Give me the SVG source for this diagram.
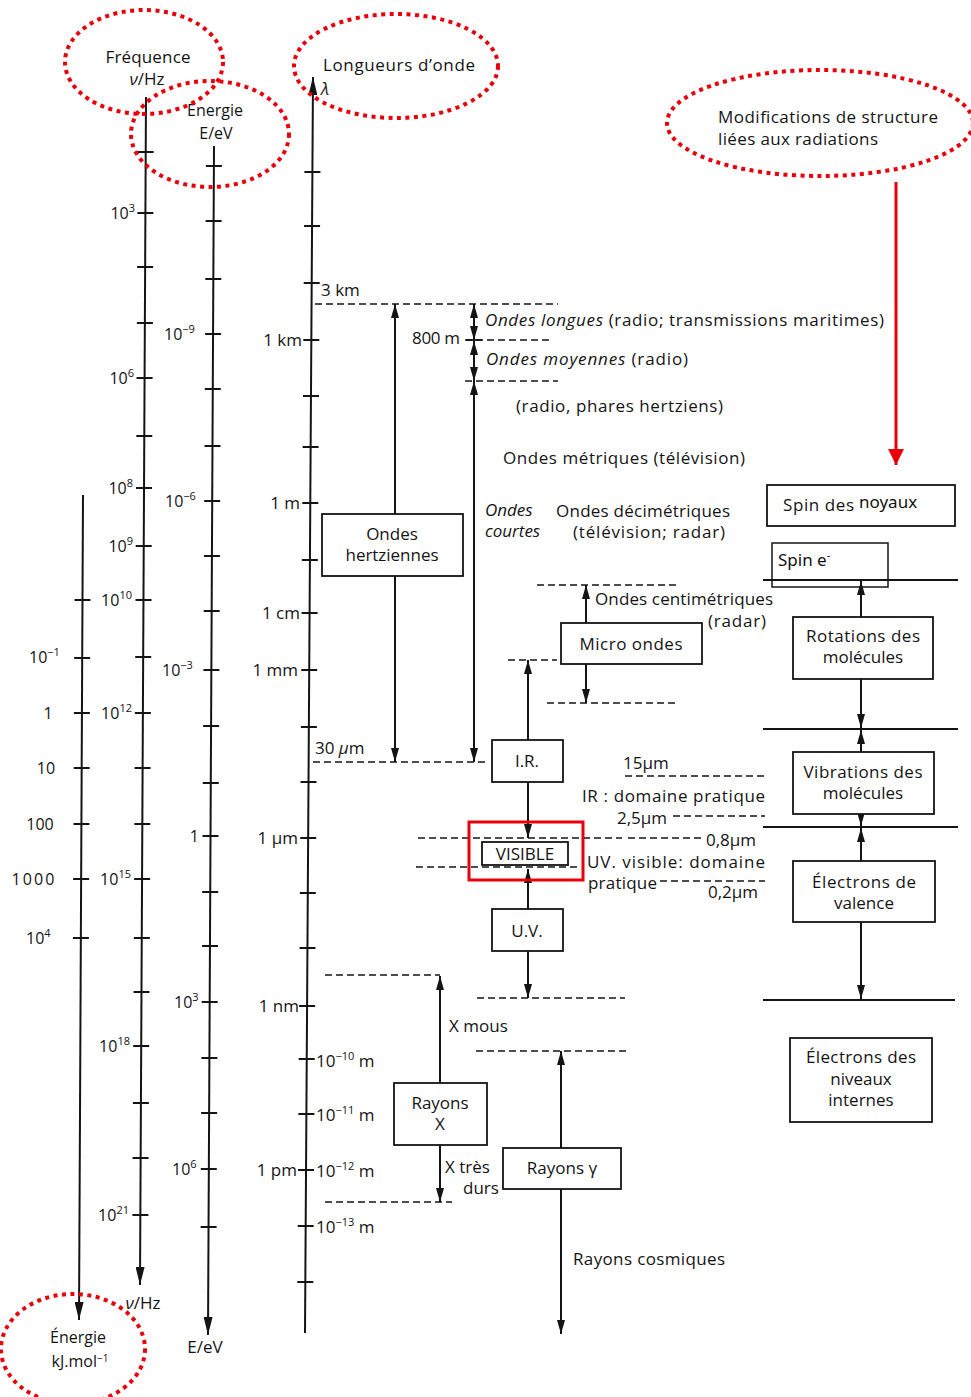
<svg xmlns="http://www.w3.org/2000/svg" width="971" height="1397" viewBox="0 0 971 1397">
<style>
.t{font-family:"Open Sans",Lato,"Liberation Sans",sans-serif;font-size:17px;fill:#141414}
.s{font-size:16px}
.i{font-style:italic}
.m{text-anchor:middle}
.e{text-anchor:end}
.c{font-family:"Noto Sans","DejaVu Sans",sans-serif;font-size:17px;fill:#111}
.ax{stroke:#141414;stroke-width:2;fill:none}
.tk{stroke:#141414;stroke-width:1.8;fill:none}
.box{fill:#fff;stroke:#141414;stroke-width:1.8}
.dash{stroke:#141414;stroke-width:1.5;stroke-dasharray:7 4;fill:none}
.ln{stroke:#141414;stroke-width:1.8;fill:none}
.arr{stroke:#141414;stroke-width:2;fill:none;marker-end:url(#ah)}
.arr2{stroke:#141414;stroke-width:2;fill:none;marker-end:url(#ah);marker-start:url(#ah)}
.red{fill:none;stroke:#e8000b;stroke-width:4;stroke-dasharray:4 4.5}
</style>
<defs>
<marker id="ah" viewBox="0 0 14 8" refX="14" refY="4" markerWidth="14" markerHeight="8" markerUnits="userSpaceOnUse" orient="auto-start-reverse"><path d="M0,0 L14,4 L0,8 z" fill="#141414"/></marker>
<marker id="axh" viewBox="0 0 18 9" refX="18" refY="4.5" markerWidth="18" markerHeight="9" markerUnits="userSpaceOnUse" orient="auto"><path d="M0,0 L18,4.5 L0,9 z" fill="#141414"/></marker>
<marker id="rh" viewBox="0 0 16 16" refX="16" refY="8" markerWidth="16" markerHeight="16" markerUnits="userSpaceOnUse" orient="auto"><path d="M0,0 L16,8 L0,16 z" fill="#e8000b"/></marker>
</defs>
<rect width="971" height="1397" fill="#fff"/>

<!-- Axes -->
<g id="axis-energie-kj">
<path class="ax" d="M83 495 L79 1320" marker-end="url(#axh)"/>
<path class="tk" d="M74.5 600h16M74.2 658h16M73.9 713h16M73.7 768h16M73.4 824h16M73.1 879h16M72.9 938h16"/>
<text class="t s" x="29" y="663">10<tspan dy="-7" font-size="11">−1</tspan></text>
<text class="t s m" x="48" y="719">1</text>
<text class="t s m" x="46" y="774">10</text>
<text class="t s m" x="40" y="830">100</text>
<text class="t s m" x="33" y="885" textLength="43">1000</text>
<text class="t s" x="26" y="944">10<tspan dy="-7" font-size="11">4</tspan></text>
<text class="t s m" x="78" y="1343">Énergie</text>
<text class="t s m" x="80" y="1367">kJ.mol<tspan dy="-5" font-size="10">−1</tspan></text>
</g>

<g id="axis-frequence">
<path class="ax" d="M146 97 L140 1285" marker-end="url(#axh)"/>
<path class="tk" d="M137.7 152h16M137.4 213h16M137.1 267h16M136.9 323h16M136.6 378h16M136.3 436h16M136 488h16M135.7 546h16M135.5 600h16M135.2 657h16M134.9 713h16M134.6 768h16M134.3 824h16M134.1 879h16M133.8 938h16M133.5 992h16M133.2 1046h16M132.9 1103h16M132.6 1158h16M132.4 1215h16"/>
<text class="t s e" x="135" y="219">10<tspan dy="-7" font-size="11">3</tspan></text>
<text class="t s e" x="134" y="384">10<tspan dy="-7" font-size="11">6</tspan></text>
<text class="t s e" x="133" y="494">10<tspan dy="-7" font-size="11">8</tspan></text>
<text class="t s e" x="133" y="552">10<tspan dy="-7" font-size="11">9</tspan></text>
<text class="t s e" x="132" y="606">10<tspan dy="-7" font-size="11">10</tspan></text>
<text class="t s e" x="132" y="719">10<tspan dy="-7" font-size="11">12</tspan></text>
<text class="t s e" x="131" y="885">10<tspan dy="-7" font-size="11">15</tspan></text>
<text class="t s e" x="130" y="1052">10<tspan dy="-7" font-size="11">18</tspan></text>
<text class="t s e" x="129" y="1221">10<tspan dy="-7" font-size="11">21</tspan></text>
<text class="t m" x="148" y="63" textLength="85">Fréquence</text>
<text class="t m" x="147" y="85"><tspan class="i">ν</tspan>/Hz</text>
<text class="t m" x="143" y="1309"><tspan class="i">ν</tspan>/Hz</text>
</g>

<g id="axis-energie-ev">
<path class="ax" d="M214 146 L208 1335" marker-end="url(#axh)"/>
<path class="tk" d="M205.9 166h16M205.6 221h16M205.3 279h16M205.1 334h16M204.8 389h16M204.5 446h16M204.2 501h16M203.9 556h16M203.7 611h16M203.4 670h16M203.1 726h16M202.8 783h16M202.5 836h16M202.2 892h16M202 946h16M201.7 1002h16M201.4 1058h16M201.1 1113h16M200.8 1169h16M200.6 1227h16"/>
<text class="t s" x="164" y="340">10<tspan dy="-7" font-size="11">−9</tspan></text>
<text class="t s" x="165" y="507">10<tspan dy="-7" font-size="11">−6</tspan></text>
<text class="t s" x="162" y="676">10<tspan dy="-7" font-size="11">−3</tspan></text>
<text class="t s e" x="199" y="842">1</text>
<text class="t s" x="174" y="1008">10<tspan dy="-7" font-size="11">3</tspan></text>
<text class="t s" x="172" y="1175">10<tspan dy="-7" font-size="11">6</tspan></text>
<text class="t s m" x="215" y="116">Énergie</text>
<text class="t s m" x="216" y="139">E/eV</text>
<text class="t m" x="205" y="1353">E/eV</text>
</g>

<g id="axis-longueur-onde">
<path class="ax" d="M305 1333 L313 77" marker-end="url(#axh)"/>
<path class="tk" d="M304.4 172h16M304.1 226h16M303.7 283h16M303.3 340h16M303 396h16M302.6 447h16M302.3 503h16M301.9 560h16M301.6 613h16M301.2 670h16M300.9 727h16M300.5 782h16M300.2 838h16M299.8 893h16M299.5 948h16M299.1 1006h16M298.7 1059h16M298.4 1114h16M298 1170h16M297.7 1226h16M297.3 1282h16"/>
<text class="t" x="323" y="71" textLength="152">Longueurs d’onde</text>
<text class="t i" x="321" y="95" font-size="15">λ</text>
<text class="t" x="321" y="296">3 km</text>
<text class="t e" x="302" y="346">1 km</text>
<text class="t e" x="300" y="509">1 m</text>
<text class="t e" x="300" y="619">1 cm</text>
<text class="t e" x="298" y="676">1 mm</text>
<text class="t e" x="298" y="844">1 µm</text>
<text class="t e" x="299" y="1012">1 nm</text>
<text class="t e" x="297" y="1176">1 pm</text>
<text class="t" x="315" y="754">30 <tspan class="i">µ</tspan>m</text>
<text class="t" x="316" y="1067">10<tspan dy="-7" font-size="11">−10</tspan><tspan dy="7"> m</tspan></text>
<text class="t" x="316" y="1121">10<tspan dy="-7" font-size="11">−11</tspan><tspan dy="7"> m</tspan></text>
<text class="t" x="316" y="1177">10<tspan dy="-7" font-size="11">−12</tspan><tspan dy="7"> m</tspan></text>
<text class="t" x="316" y="1233">10<tspan dy="-7" font-size="11">−13</tspan><tspan dy="7"> m</tspan></text>
</g>

<!-- Connectors and limit lines -->
<g id="connectors">
<path class="dash" d="M315 304H558M465 340H552M465 381H558M313 762H488M537 585H678M547 703H678M508 660H557M418 838H622M628 838H702M416 867H578M625 776H765M673 816H765M660 881H765M477 998H625M325 975H440M476 1051H626M325 1202H452"/>
<path class="tk" d="M466 340h16"/>
<path class="ln" d="M763 580H958M763 729H958M763 827H958M763 1000H955"/>
<path class="arr" d="M395 514V304"/>
<path class="arr" d="M395 576V762"/>
<path class="arr2" d="M474 304V340"/>
<path class="arr2" d="M474 341V381"/>
<path class="arr2" d="M474 381V762"/>
<path class="arr" d="M586 623V585"/>
<path class="arr" d="M586 664V703"/>
<path class="arr" d="M528 740V660"/>
<path class="arr" d="M528 782V838"/>
<path class="arr" d="M528 909V869"/>
<path class="arr" d="M528 951V998"/>
<path class="arr" d="M440 1083V976"/>
<path class="arr" d="M440 1145V1202"/>
<path class="arr" d="M561 1148V1051"/>
<path class="arr" d="M561 1189V1334"/>
<path class="arr" d="M861 617V581"/>
<path class="arr" d="M861 679V728"/>
<path class="arr" d="M861 752V730"/>
<path class="arr" d="M861 814V826"/>
<path class="arr" d="M861 861V828"/>
<path class="arr" d="M861 921V999"/>
<path d="M896 182V465" stroke="#e8000b" stroke-width="3" fill="none" marker-end="url(#rh)"/>
</g>

<!-- Wave domain nodes -->
<g id="node-ondes-hertziennes">
<rect class="box" x="322" y="514" width="141" height="62"/>
<text class="t m" x="392" y="540">Ondes</text>
<text class="t m" x="392" y="561" textLength="93">hertziennes</text>
</g>
<g id="node-micro-ondes">
<rect class="box" x="561" y="623" width="141" height="41"/>
<text class="t m" x="631" y="650" textLength="103">Micro ondes</text>
</g>
<g id="node-ir">
<rect class="box" x="492" y="740" width="71" height="42"/>
<text class="t m" x="527" y="767">I.R.</text>
</g>
<g id="node-visible">
<rect class="box" x="482" y="842" width="86" height="23"/>
<text class="t m" x="525" y="860">VISIBLE</text>
<rect x="469" y="822" width="114" height="58" fill="none" stroke="#e8000b" stroke-width="3"/>
</g>
<g id="node-uv">
<rect class="box" x="492" y="909" width="71" height="42"/>
<text class="t m" x="527" y="937">U.V.</text>
</g>
<g id="node-rayons-x">
<rect class="box" x="394" y="1083" width="93" height="62"/>
<text class="t m" x="440" y="1109">Rayons</text>
<text class="t m" x="440" y="1130">X</text>
</g>
<g id="node-rayons-gamma">
<rect class="box" x="503" y="1148" width="118" height="41"/>
<text class="t m" x="562" y="1174">Rayons γ</text>
</g>

<!-- Labels of wave domains -->
<g id="labels">
<text class="t e" x="460" y="344" textLength="48">800 m</text>
<text class="t" x="485" y="326" textLength="399"><tspan class="i">Ondes longues</tspan> (radio; transmissions maritimes)</text>
<text class="t" x="486" y="365" textLength="202"><tspan class="i">Ondes moyennes</tspan> (radio)</text>
<text class="t" x="516" y="412" textLength="207">(radio, phares hertziens)</text>
<text class="t" x="503" y="464" textLength="242">Ondes métriques (télévision)</text>
<text class="t i" x="485" y="516">Ondes</text>
<text class="t i" x="485" y="537">courtes</text>
<text class="t" x="556" y="517" textLength="174">Ondes décimétriques</text>
<text class="t" x="573" y="538" textLength="152">(télévision; radar)</text>
<text class="t" x="595" y="605" textLength="178">Ondes centimétriques</text>
<text class="t" x="708" y="627" textLength="58">(radar)</text>
<text class="t" x="623" y="769">15µm</text>
<text class="t" x="582" y="802" textLength="183">IR : domaine pratique</text>
<text class="t" x="617" y="824">2,5µm</text>
<text class="t" x="706" y="846">0,8µm</text>
<text class="t" x="587" y="868" textLength="178">UV. visible: domaine</text>
<text class="t" x="588" y="889" textLength="69">pratique</text>
<text class="t" x="708" y="898">0,2µm</text>
<text class="t" x="449" y="1032">X mous</text>
<text class="t" x="445" y="1173">X très</text>
<text class="t" x="463" y="1194">durs</text>
<text class="t" x="573" y="1265" textLength="152">Rayons cosmiques</text>
<text class="t" x="718" y="123" textLength="220">Modifications de structure</text>
<text class="t" x="718" y="145" textLength="160">liées aux radiations</text>
</g>

<!-- Structure modification nodes -->
<g id="node-spin-noyaux">
<rect class="box" x="767" y="485" width="188" height="41"/>
<text class="t" x="783" y="511" textLength="71">Spin des</text>
<text class="c" x="859" y="508">noyaux</text>
</g>
<g id="node-spin-e">
<rect x="772" y="543" width="116" height="44" fill="none" stroke="#141414" stroke-width="1.5"/>
<text class="c" x="778" y="566">Spin e<tspan dy="-7" font-size="11">-</tspan></text>
</g>
<g id="node-rotations">
<rect class="box" x="793" y="617" width="140" height="62"/>
<text class="t m" x="863" y="642" textLength="114">Rotations des</text>
<text class="t m" x="863" y="663">molécules</text>
</g>
<g id="node-vibrations">
<rect class="box" x="793" y="752" width="141" height="62"/>
<text class="t m" x="863" y="778" textLength="119">Vibrations des</text>
<text class="t m" x="863" y="799">molécules</text>
</g>
<g id="node-valence">
<rect class="box" x="793" y="861" width="142" height="61"/>
<text class="t m" x="864" y="888" textLength="104">Électrons de</text>
<text class="t m" x="864" y="909">valence</text>
</g>
<g id="node-niveaux-internes">
<rect class="box" x="790" y="1038" width="142" height="84"/>
<text class="t m" x="861" y="1063" textLength="110">Électrons des</text>
<text class="t m" x="861" y="1085">niveaux</text>
<text class="t m" x="861" y="1106">internes</text>
</g>

<!-- Red dotted highlights -->
<g id="highlights">
<ellipse class="red" cx="144" cy="62" rx="79" ry="52"/>
<ellipse class="red" cx="210" cy="134" rx="79" ry="53"/>
<ellipse class="red" cx="396" cy="66" rx="102" ry="52"/>
<ellipse class="red" cx="820" cy="123" rx="153" ry="53"/>
<ellipse class="red" cx="73" cy="1349" rx="72" ry="55"/>
</g>
</svg>
